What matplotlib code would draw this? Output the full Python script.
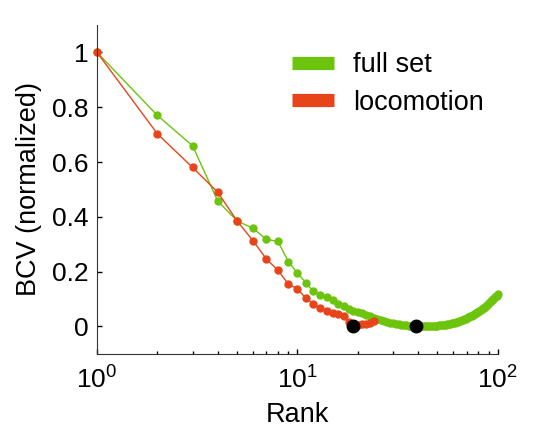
import matplotlib
matplotlib.use('Agg')
import numpy as np
import matplotlib.pyplot as plt
from matplotlib.lines import Line2D

plt.rcParams['font.family'] = ['Liberation Sans', 'DejaVu Sans']

# full set: ranks 1..100
full_bcv = [1.0, 0.77, 0.659, 0.458, 0.385, 0.358, 0.318, 0.31, 0.237, 0.195,
            0.16, 0.128, 0.116, 0.107, 0.098, 0.083, 0.074, 0.064, 0.058, 0.053,
            0.048, 0.043, 0.037, 0.032, 0.028, 0.024, 0.020, 0.017, 0.014, 0.012,
            0.010, 0.008, 0.007, 0.005, 0.004, 0.003, 0.002, 0.001, 0.0, 0.0,
            0.0, 0.0, 0.001, 0.001, 0.001, 0.002, 0.002, 0.002, 0.003, 0.003,
            0.004, 0.005, 0.005, 0.006, 0.007, 0.008, 0.009, 0.010, 0.011, 0.013,
            0.014, 0.016, 0.017, 0.019, 0.021, 0.023, 0.025, 0.027, 0.029, 0.032,
            0.034, 0.036, 0.038, 0.040, 0.042, 0.044, 0.046, 0.049, 0.051, 0.054,
            0.057, 0.060, 0.063, 0.066, 0.069, 0.072, 0.075, 0.079, 0.082, 0.086,
            0.089, 0.092, 0.095, 0.098, 0.101, 0.104, 0.107, 0.110, 0.113, 0.117]
full_rank = list(range(1, len(full_bcv) + 1))

# locomotion: ranks 1..24
loco_bcv = [1.0, 0.703, 0.58, 0.49, 0.385, 0.313, 0.246, 0.205, 0.155, 0.137,
            0.104, 0.082, 0.068, 0.056, 0.05, 0.046, 0.04, 0.016, 0.0, 0.007,
            0.008, 0.01, 0.012, 0.02]
loco_rank = list(range(1, len(loco_bcv) + 1))

green = '#6cc40c'
red = '#e8441a'

fig = plt.figure(figsize=(5.33, 4.3), dpi=100)
ax = fig.add_axes([0.182, 0.177, 0.752, 0.765])

ax.plot(full_rank, full_bcv, '-o', color=green, lw=1, ms=5, mec=green, clip_on=False)
ax.plot(loco_rank, loco_bcv, '-o', color=red, lw=1, ms=5, mec=red, clip_on=False)

# minima
min_full = int(np.argmin(full_bcv))
min_loco = int(np.argmin(loco_bcv))
ax.plot(loco_rank[min_loco], loco_bcv[min_loco], 'o', color='black', ms=9)
ax.plot(full_rank[min_full], full_bcv[min_full], 'o', color='black', ms=9)

ax.set_xscale('log')
ax.set_xlim(1, 100)
ax.set_ylim(-0.1, 1.1)
ax.set_yticks([0, 0.2, 0.4, 0.6, 0.8, 1])
ax.set_yticklabels(['0', '0.2', '0.4', '0.6', '0.8', '1'])
ax.tick_params(axis='both', which='both', direction='in', labelsize=19, width=1)
ax.tick_params(axis='x', pad=9)
ax.tick_params(axis='y', pad=6)
ax.spines['top'].set_visible(False)
ax.spines['right'].set_visible(False)
ax.spines['left'].set_color('#333333')
ax.spines['bottom'].set_color('#333333')
ax.set_xlabel('Rank', fontsize=19.5, labelpad=6)
ax.set_ylabel('BCV (normalized)', fontsize=19.5, labelpad=7)

handles = [Line2D([], [], color=green, lw=9.5, solid_capstyle='butt'),
           Line2D([], [], color=red, lw=9.5, solid_capstyle='butt')]
fig.legend(handles, ['full set', 'locomotion'], loc='upper left', frameon=False,
           fontsize=19.5, handlelength=1.55, handletextpad=0.72, labelspacing=0.44,
           borderpad=0, borderaxespad=0, bbox_to_anchor=(292 / 533, 1 - 52 / 430))

fig.savefig('out.png', dpi=100)
